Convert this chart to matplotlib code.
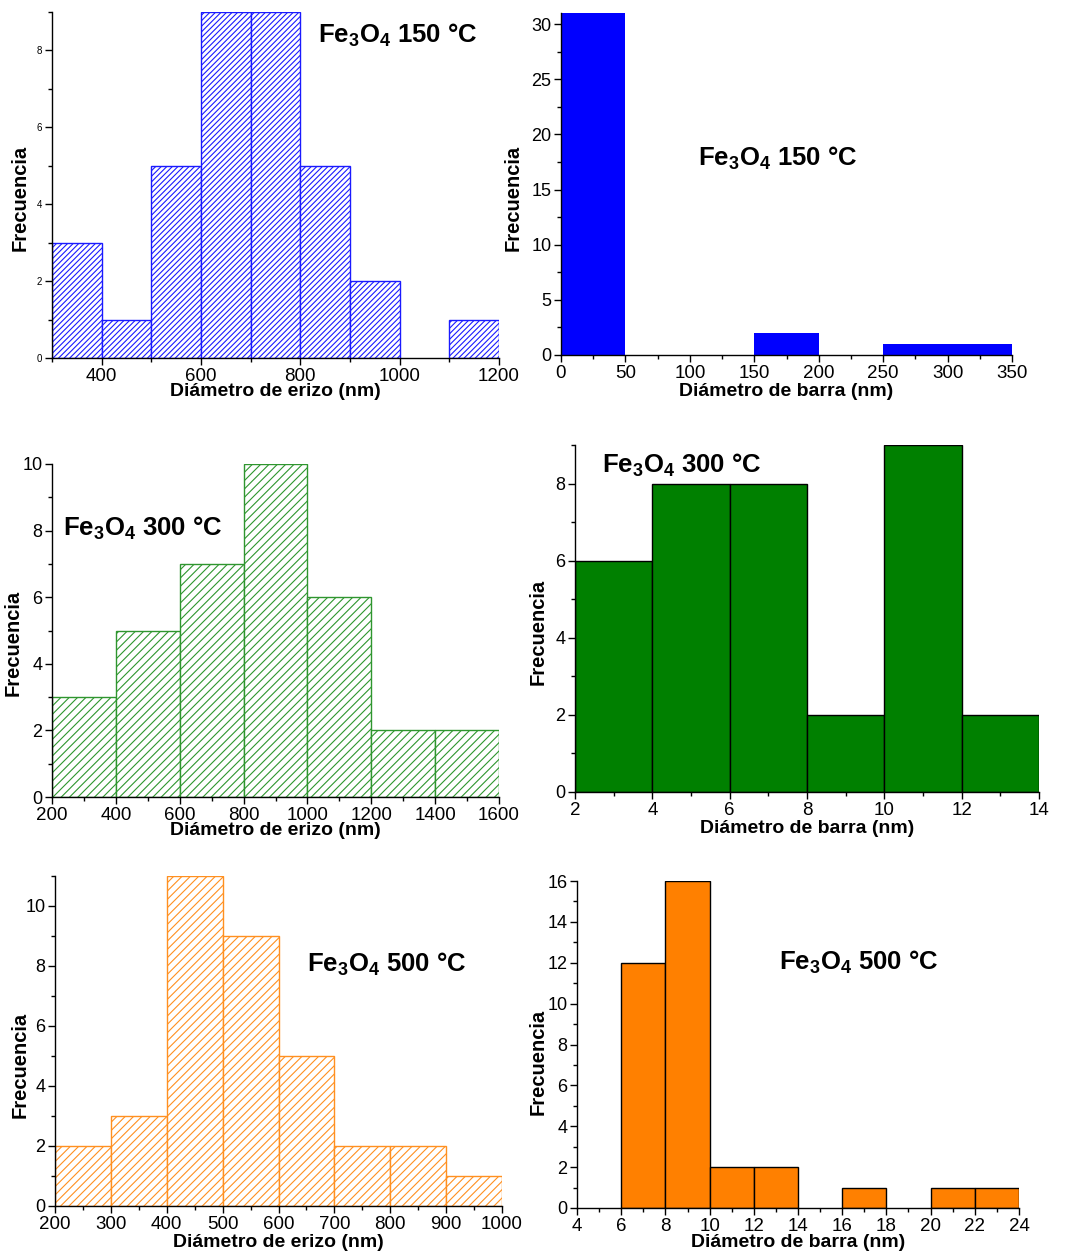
import numpy as np
import matplotlib
matplotlib.use("Agg")
import matplotlib.pyplot as plt
from matplotlib.ticker import MultipleLocator

plt.rcParams['font.family'] = ['Liberation Sans', 'DejaVu Sans']
plt.rcParams['mathtext.fontset'] = 'custom'
plt.rcParams['mathtext.rm'] = 'Liberation Sans:bold'
plt.rcParams['mathtext.bf'] = 'Liberation Sans:bold'
plt.rcParams['mathtext.default'] = 'rm'
plt.rcParams['hatch.linewidth'] = 0.8

# datos de los histogramas (bordes de clase y frecuencias)
erizo150_edges = [300, 400, 500, 600, 700, 800, 900, 1000, 1100, 1200]
erizo150_counts = [3, 1, 5, 9, 9, 5, 2, 0, 1]
barra150_edges = [0, 50, 100, 150, 200, 250, 300, 350]
barra150_counts = [31, 0, 0, 2, 0, 1, 1]

erizo300_edges = [200, 400, 600, 800, 1000, 1200, 1400, 1600]
erizo300_counts = [3, 5, 7, 10, 6, 2, 2]
barra300_edges = [2, 4, 6, 8, 10, 12, 14]
barra300_counts = [6, 8, 8, 2, 9, 2]

erizo500_edges = [200, 300, 400, 500, 600, 700, 800, 900, 1000]
erizo500_counts = [2, 3, 11, 9, 5, 2, 2, 1]
barra500_edges = [4, 6, 8, 10, 12, 14, 16, 18, 20, 22, 24]
barra500_counts = [0, 12, 16, 2, 2, 0, 1, 0, 1, 1]

W, H = 1065, 1252
fig = plt.figure(figsize=(W / 100, H / 100), dpi=100)


def make_ax(left, top, right, bottom):
    return fig.add_axes([left / W, 1 - bottom / H, (right - left) / W, (bottom - top) / H])


def histo(ax, edges, counts, **kw):
    edges = np.array(edges)
    counts = np.array(counts)
    m = counts > 0
    ax.bar(edges[:-1][m], counts[m], width=np.diff(edges)[m], align='edge', **kw)


def estilo(ax, xlim, ylim, xmaj, xmin, ymaj, ymin, label, title, tpos, xl, yl, ysize=13):
    ax.set_xlim(*xlim)
    ax.set_ylim(*ylim)
    for s in ['top', 'right']:
        ax.spines[s].set_visible(False)
    for s in ['left', 'bottom']:
        ax.spines[s].set_linewidth(1.0)
        ax.spines[s].set_zorder(5)
    if isinstance(xmaj, list):
        ax.set_xticks(xmaj)
    else:
        ax.xaxis.set_major_locator(MultipleLocator(xmaj))
    ax.xaxis.set_minor_locator(MultipleLocator(xmin))
    ax.yaxis.set_major_locator(MultipleLocator(ymaj))
    ax.yaxis.set_minor_locator(MultipleLocator(ymin))
    ax.tick_params(which='major', direction='out', length=5, width=1)
    ax.tick_params(which='minor', direction='out', length=3, width=1)
    ax.tick_params(axis='x', labelsize=13.5, pad=2)
    ax.tick_params(axis='y', labelsize=ysize, pad=2)
    ax.set_xlabel(label, fontsize=14, fontweight='bold', va='center')
    ax.xaxis.set_label_coords(0.5, xl)
    ax.set_ylabel('Frecuencia', fontsize=14.5, fontweight='bold', va='center')
    ax.yaxis.set_label_coords(yl[0], yl[1])
    ax.text(tpos[0], tpos[1], title, transform=ax.transAxes, fontsize=18.5,
            fontweight='bold', ha='left', va='baseline')


# 150 °C
ax1 = make_ax(52, 12, 499, 358)
histo(ax1, erizo150_edges, erizo150_counts, facecolor='white', edgecolor='#1a1aff',
      hatch='//////', linewidth=1.0)
estilo(ax1, (300, 1200), (0, 9), [400, 600, 800, 1000, 1200], 100, 2, 1,
       'Diámetro de erizo (nm)', r'Fe$_3$O$_4$ 150 °C', (0.595, 0.910),
       -0.098, (-0.072, 0.462), ysize=7)

ax2 = make_ax(561, 13, 1012, 355)
histo(ax2, barra150_edges, barra150_counts, facecolor='#0000ff', edgecolor='none')
estilo(ax2, (0, 350), (0, 31), 50, 25, 5, 2.5,
       'Diámetro de barra (nm)', r'Fe$_3$O$_4$ 150 °C', (0.304, 0.553),
       -0.108, (-0.106, 0.459))

# 300 °C
ax3 = make_ax(52, 464, 499, 797)
histo(ax3, erizo300_edges, erizo300_counts, facecolor='white', edgecolor='#2f962f',
      hatch='////', linewidth=1.0)
estilo(ax3, (200, 1600), (0, 10), 200, 100, 2, 1,
       'Diámetro de erizo (nm)', r'Fe$_3$O$_4$ 300 °C', (0.025, 0.784),
       -0.101, (-0.087, 0.462))

ax4 = make_ax(575, 445, 1039, 792)
histo(ax4, barra300_edges, barra300_counts, facecolor='#008000', edgecolor='black',
      linewidth=1.0)
estilo(ax4, (2, 14), (0, 9), 2, 1, 2, 1,
       'Diámetro de barra (nm)', r'Fe$_3$O$_4$ 300 °C', (0.058, 0.919),
       -0.104, (-0.080, 0.461))

# 500 °C
ax5 = make_ax(55, 876, 502, 1206)
histo(ax5, erizo500_edges, erizo500_counts, facecolor='white', edgecolor='#ff9020',
      hatch='////', linewidth=1.0)
estilo(ax5, (200, 1000), (0, 11), 100, 50, 2, 1,
       'Diámetro de erizo (nm)', r'Fe$_3$O$_4$ 500 °C', (0.564, 0.709),
       -0.110, (-0.078, 0.427))

ax6 = make_ax(577, 881, 1019, 1208)
histo(ax6, barra500_edges, barra500_counts, facecolor='#ff8000', edgecolor='black',
      linewidth=1.0)
estilo(ax6, (4, 24), (0, 16), 2, 1, 2, 1,
       'Diámetro de barra (nm)', r'Fe$_3$O$_4$ 500 °C', (0.457, 0.728),
       -0.107, (-0.088, 0.446))

fig.savefig('out.png', dpi=100)
